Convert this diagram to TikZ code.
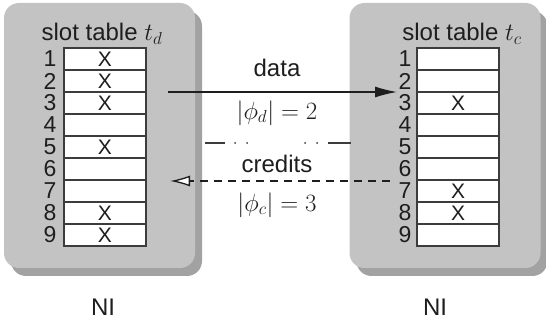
\documentclass[tikz,border=0pt]{standalone}
\usepackage[no-math]{fontspec}
\setmainfont{Liberation Sans}
\usetikzlibrary{arrows.meta}
\definecolor{boxgrey}{HTML}{C3C3C3}
\definecolor{shadowgrey}{HTML}{A2A2A2}
\definecolor{inkdark}{HTML}{1E1E1E}
\definecolor{celldark}{HTML}{3C3C3C}
\begin{document}
\begin{tikzpicture}[x=1pt,y=-1pt,
  nibox/.style={fill=boxgrey, rounded corners=15pt, minimum width=191pt,
    minimum height=265pt, inner sep=0pt},
  nishadow/.style={fill=shadowgrey, rounded corners=15pt, minimum width=191pt,
    minimum height=265pt, inner sep=0pt},
  cell/.style={draw=celldark, fill=white, line width=1.3pt, minimum width=82pt,
    minimum height=22pt, inner sep=0pt, text=inkdark,
    font=\fontsize{21}{22}\selectfont},
  num/.style={inner sep=0pt, text=inkdark, font=\fontsize{23}{24}\selectfont},
  ttl/.style={inner sep=0pt, anchor=base, text=inkdark,
    font=\fontsize{24}{26}\selectfont},
  lbl/.style={inner sep=0pt, text=inkdark, font=\fontsize{24}{26}\selectfont},
  dataarrow/.style={draw=inkdark, line width=1.3pt,
    -{Latex[length=22pt,width=11pt]}},
  creditarrow/.style={draw=inkdark, line width=1.3pt, dash pattern=on 8pt off 6pt,
    -{Latex[open,length=20pt,width=11pt,fill=white]}},
  sep/.style={draw=celldark, line width=1.3pt}
]
\useasboundingbox (0,0) rectangle (546,320);

% network interfaces with their drop shadows
\node[nishadow] at (106.5,143.5) {};
\node[nibox] (nid) at (99.5,135.5) {};
\node[nishadow] at (452,143.5) {};
\node[nibox] (nic) at (445,135.5) {};

% slot table of the data sender
\node[ttl] (ttld) at (102,41) {slot table $t_d$};
\foreach \i/\m in {1/X,2/X,3/X,4/,5/X,6/,7/,8/X,9/X}{
  \node[cell] (d\i) at (105,37+22*\i) {\m};
  \node[num] (dn\i) at (50,37+22*\i) {\i};
}

% slot table of the credit sender
\node[ttl] (ttlc) at (462,41) {slot table $t_c$};
\foreach \i/\m in {1/,2/,3/X,4/,5/,6/,7/X,8/X,9/}{
  \node[cell] (c\i) at (458,37+22*\i) {\m};
  \node[num] (cn\i) at (405,37+22*\i) {\i};
}

% data channel
\coordinate (dsrc) at (168,92);
\coordinate (ddst) at (397,92);
\draw[dataarrow] (dsrc) -- (ddst);
\node[lbl] (ldata) at (277,68) {data};
\node[lbl] (lphid) at (277,113) {$|\phi_d| = 2$};

% separator between the two channels
\coordinate (s1) at (205,143);
\coordinate (s2) at (225,143);
\coordinate (s3) at (328,143);
\coordinate (s4) at (351,143);
\draw[sep] (s1) -- (s2);
\draw[sep] (s3) -- (s4);
\foreach \x in {235,247,305,317}{
  \fill[celldark] (\x,143) circle (1pt);
}

% credit channel
\coordinate (csrc) at (390,181);
\coordinate (cdst) at (170,181);
\draw[creditarrow] (csrc) -- (cdst);
\node[lbl] (lcred) at (277,164) {credits};
\node[lbl] (lphic) at (277,205) {$|\phi_c| = 3$};

% interface names
\node[lbl] (nameD) at (103,307) {NI};
\node[lbl] (nameC) at (435,307) {NI};
\end{tikzpicture}
\end{document}
